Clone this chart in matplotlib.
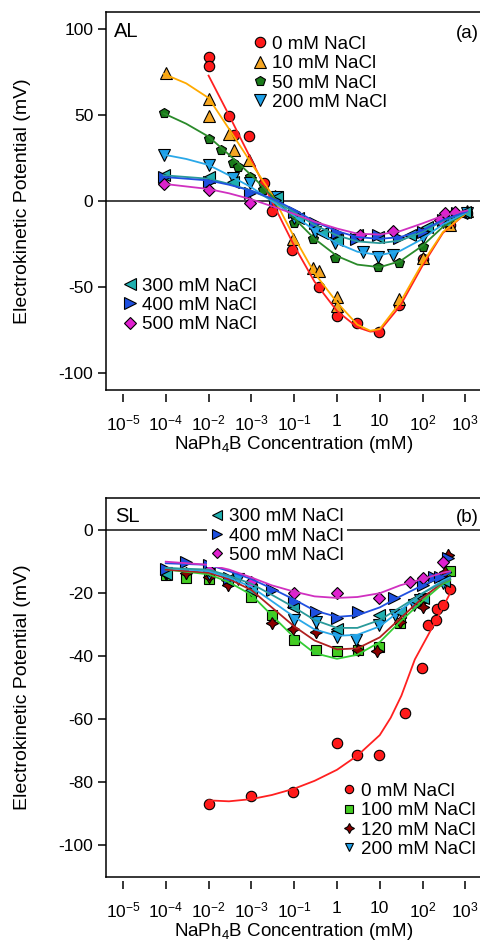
import matplotlib
matplotlib.use('Agg')
import matplotlib.pyplot as plt
from matplotlib.lines import Line2D

plt.rcParams['font.family'] = ['Liberation Sans', 'DejaVu Sans']
plt.rcParams['mathtext.fontset'] = 'custom'
plt.rcParams['mathtext.rm'] = 'Liberation Sans'
plt.rcParams['mathtext.it'] = 'Liberation Sans:italic'
plt.rcParams['axes.unicode_minus'] = False

# ---------------------------------------------------------------
# DATA  (x = NaPh4B concentration at the tick positions, y = mV)

xticks = [1e-5, 1e-4, 1e-3, 1e-2, 1e-1, 1, 10, 1e2, 1e3]
# labels exactly as printed on the original figure
xtick_labels = ['$10^{-5}$', '$10^{-4}$', '$10^{-2}$', '$10^{-3}$', '$10^{-1}$',
                '1', '10', '$10^{2}$', '$10^{3}$']

# panel (a) AL
al_0_x = [1e-3, 1e-3, 3e-3, 4e-3, 9e-3, 0.02, 0.03, 0.09, 0.38, 1, 3, 9.5, 28, 100, 440, 1100]
al_0_y = [84, 78.5, 49.5, 38.5, 38, 10.5, -6, -28.5, -50, -67, -71, -76.5, -60.5, -34, -14, -7]
al_10_x = [1e-4, 1e-3, 1e-3, 3e-3, 4e-3, 9e-3, 0.035, 0.095, 0.28, 0.38, 1, 1, 28, 100, 440, 1100]
al_10_y = [74.5, 59.5, 49.5, 39, 29.5, 24, 3, -22, -39, -41, -56, -61, -57, -33, -14, -6]
al_50_x = [9e-5, 1e-3, 1.9e-3, 3.7e-3, 4.9e-3, 9.3e-3, 0.019, 0.035, 0.1, 0.28, 0.9, 9, 28, 100, 1100]
al_50_y = [51, 36, 29.5, 22, 20, 14, 6.5, -1, -13, -22, -33, -38.5, -36, -27, -7]
al_200_x = [9e-5, 1e-3, 3.7e-3, 9.3e-3, 0.04, 0.1, 0.3, 0.9, 4, 9, 20, 100, 300, 1100]
al_200_y = [27, 21, 13.5, 10.5, 2.3, -10, -18, -24.5, -29.5, -32.5, -31.5, -21, -12, -7]
al_300_x = [9e-5, 1e-3, 3.7e-3, 0.04, 0.12, 0.45, 1, 3, 9, 50, 130, 330, 1000]
al_300_y = [15, 14, 11, 2.3, -10, -18.6, -22.7, -19.8, -21, -19.8, -15, -12, -6.4]
al_400_x = [9e-5, 1e-3, 9.3e-3, 0.035, 0.1, 0.3, 1, 2.8, 9, 28, 100, 300, 630]
al_400_y = [14, 11, 4.8, 0.5, -6.4, -12.8, -18.6, -22, -20, -21.5, -18, -11, -7]
al_500_x = [9e-5, 1e-3, 9.3e-3, 3.5, 20, 250, 330, 570]
al_500_y = [10, 6.5, -1.2, -19.8, -17.5, -11, -7, -6.4]

al_fit_x = [9e-5, 3e-4, 1e-3, 3e-3, 0.01, 0.03, 0.1, 0.3, 1, 3, 10, 30, 100, 300, 1100]
al_0_fit_x = [1e-3, 3e-3, 0.01, 0.03, 0.1, 0.3, 1, 3, 6, 10, 30, 100, 300, 1100]
al_0_fit_y = [73, 50, 24, 0, -26, -47, -64, -73.5, -76, -75.5, -61, -37.5, -18.5, -6.5]
al_10_fit_x = [9e-5, 3e-4, 1e-3, 3e-3, 0.01, 0.03, 0.1, 0.3, 1, 3, 6, 10, 30, 100, 300, 1100]
al_10_fit_y = [74, 68.5, 60, 42, 22, 4, -21, -42, -59, -72, -75.5, -74.5, -59, -36, -18, -6.5]
al_50_fit_y = [51, 45, 37.5, 27, 15, 3, -10, -22, -32, -37, -38.5, -35, -26, -15, -6.5]
al_200_fit_y = [27, 24.5, 21, 15, 8, 0, -8.5, -17, -24.5, -29.5, -31.5, -29, -22, -13.5, -6.5]
al_300_fit_y = [15, 14, 13, 10, 6, 1, -6.5, -14, -20, -23.5, -24.5, -23, -18, -11.5, -6]
al_400_fit_y = [14, 13, 12, 9.5, 6, 1.5, -5, -12, -17.5, -21, -22, -21, -17, -11, -6]
al_500_fit_y = [10, 8.5, 7, 4.5, 1, -3, -7.5, -12, -16, -19, -19.5, -17.5, -13, -8.5, -5.5]

# panel (b) SL
sl_0_x = [1e-3, 0.01, 0.093, 1, 3, 9.5, 39, 98, 135, 205, 215, 300, 440]
sl_0_y = [-86.7, -84.4, -83.2, -67.6, -71.4, -71.4, -58, -43.8, -30.2, -28.6, -25, -23.8, -18.8]
sl_100_x = [1e-4, 3e-4, 1e-3, 0.01, 0.03, 0.1, 0.32, 1, 3.1, 9.5, 30, 100, 440]
sl_100_y = [-14.3, -15.1, -15.6, -21.2, -26.8, -34.7, -37.9, -38.3, -37.9, -37, -29.4, -21.6, -12.9]
sl_120_x = [1e-4, 3e-4, 1e-3, 2.8e-3, 0.03, 0.093, 0.32, 3.1, 8.5, 30, 100, 330, 400]
sl_120_y = [-14, -13.6, -15, -17.5, -29.4, -31.2, -32.3, -38.1, -38.3, -29.2, -24.3, -13.3, -8]
sl_200_x = [1e-4, 1e-3, 5e-3, 0.01, 0.1, 0.32, 1, 2.8, 9.5, 23, 63, 89, 300]
sl_200_y = [-13.5, -14, -15.5, -19, -28.6, -29.2, -33.9, -34.9, -30.2, -27, -23.8, -22.2, -16.9]
sl_300_x = [1e-4, 2.7e-3, 0.01, 0.093, 1, 9.5, 30, 63, 100, 320]
sl_300_y = [-14, -15.9, -19, -24.3, -31.2, -27, -26, -22, -21.5, -16]
sl_400_x = [1e-4, 3e-4, 1e-3, 3e-3, 0.03, 0.1, 0.32, 1, 3.1, 21, 100, 190, 250, 400]
sl_400_y = [-12.2, -10.1, -11.1, -15.3, -19, -22.8, -26, -28, -26, -21.6, -17.5, -14.9, -14.9, -8.9]
sl_500_x = [1e-3, 0.01, 0.1, 1, 9.5, 50, 100, 300]
sl_500_y = [-12.7, -16.5, -20, -20, -21.6, -16.5, -15.3, -10]

sl_fit_x = [1e-4, 1e-3, 3e-3, 0.01, 0.03, 0.1, 0.3, 1, 3, 10, 30, 100, 300, 440]
sl_0_fit_x = [1e-3, 3e-3, 0.01, 0.03, 0.1, 0.3, 1, 3, 10, 18, 32, 66, 100, 200, 440]
sl_0_fit_y = [-85.7, -86, -85.3, -84, -82, -79.5, -76, -71.5, -65, -59.5, -52.5, -41, -36.5, -29, -20]
sl_100_fit_y = [-12.5, -14, -16.5, -20.5, -27, -34, -39, -40.8, -39.5, -35.5, -29, -22.5, -17, -16]
sl_120_fit_y = [-12.5, -13.5, -15.5, -19, -24.5, -30.5, -35, -37.8, -37.5, -34, -28, -21.5, -16.5, -15.5]
sl_200_fit_y = [-12, -13, -15, -18, -22.5, -27.5, -31.5, -33.5, -33.2, -30.5, -25.5, -20, -16, -15]
sl_300_fit_y = [-12, -12.5, -14.5, -17, -20.5, -24.5, -28.5, -31, -31, -28.5, -24.5, -20, -16.5, -15.5]
sl_400_fit_y = [-10.5, -11, -13, -15.5, -18.5, -22, -25.5, -27.5, -27, -24.5, -21, -17.5, -14.5, -13.5]
sl_500_fit_y = [-10, -11, -12.5, -15, -17.5, -19.5, -21, -21.5, -21.2, -20, -17.5, -15.5, -13.5, -13]

# ---------------------------------------------------------------
# styles per NaCl concentration: marker, face colour, fit colour, size

style = {
    '0':   ('o', '#ff1a1a', '#ff2020', 7.5),
    '10':  ('^', '#f5a623', '#ffaa00', 8),
    '50':  ('p', '#1a7a1a', '#2a8a2a', 7.5),
    '100': ('s', '#44cc22', '#33cc33', 7),
    '120': ((4, 1, 0), '#8b0000', '#b02020', 9),
    '200': ('v', '#1ea0e8', '#2aa8e8', 8),
    '300': ('<', '#1fb0b0', '#2a9a9a', 8),
    '400': ('>', '#1e50e0', '#2050e0', 8),
    '500': ('D', '#e020d0', '#d030c0', 6.5),
}

FS = 12.5      # tick labels
LFS = 13.5     # legend / axis labels
fig = plt.figure(figsize=(4.8, 9.43), dpi=100)


def make_axes(rect, ylim, yticks):
    ax = fig.add_axes(rect)
    ax.set_xscale('log')
    ax.set_xlim(10 ** -5.397, 10 ** 3.388)
    ax.set_ylim(*ylim)
    ax.set_xticks(xticks)
    ax.set_xticklabels(xtick_labels)
    ax.minorticks_off()
    ax.set_yticks(yticks)
    ax.tick_params(direction='out', length=6, width=1.1, labelsize=FS, pad=3)
    ax.tick_params(axis='x', length=6, pad=8)
    ax.spines['bottom'].set_position(('outward', 3))
    ax.spines['bottom'].set_visible(False)
    ax.spines['right'].set_visible(False)
    for s in ['left', 'top']:
        ax.spines[s].set_linewidth(1.1)
    ax.plot([0, 1], [0, 0], transform=ax.transAxes, color='black', lw=1.1, clip_on=False)
    ax.axhline(0, color='#222222', lw=1.2, zorder=1)
    ax.set_xlabel('NaPh$_4$B Concentration (mM)', fontsize=LFS, labelpad=0)
    ax.set_ylabel('Electrokinetic Potential (mV)', fontsize=14)
    ax.yaxis.set_label_coords(-0.2, 0.5)
    return ax


def draw(ax, key, x, y, fx, fy):
    m, face, line, ms = style[key]
    ax.plot(x, y, linestyle='none', marker=m, ms=ms, mfc=face, mec='black', mew=0.8, zorder=3)
    ax.plot(fx, fy, color=line, lw=1.3, zorder=4)


def handle(key, scale=1.0):
    m, face, line, ms = style[key]
    return Line2D([], [], linestyle='none', marker=m, ms=ms * scale, mfc=face, mec='black', mew=0.8)


def legend(ax, keys, anchor, scale=1.0):
    leg = ax.legend([handle(k, scale) for k in keys], [k + ' mM NaCl' for k in keys],
                    loc='upper left', bbox_to_anchor=anchor, fontsize=LFS,
                    handlelength=0.75, handletextpad=0.3, labelspacing=0.12,
                    borderpad=0.15, borderaxespad=0, frameon=True, fancybox=False,
                    facecolor='white', edgecolor='none', framealpha=1)
    leg.set_zorder(6)
    return leg


# panel (a)
ax1 = make_axes([0.2208, 0.5864, 0.7833, 0.4008], (-110, 110), [-100, -50, 0, 50, 100])
draw(ax1, '0', al_0_x, al_0_y, al_0_fit_x, al_0_fit_y)
draw(ax1, '10', al_10_x, al_10_y, al_10_fit_x, al_10_fit_y)
draw(ax1, '50', al_50_x, al_50_y, al_fit_x, al_50_fit_y)
draw(ax1, '200', al_200_x, al_200_y, al_fit_x, al_200_fit_y)
draw(ax1, '300', al_300_x, al_300_y, al_fit_x, al_300_fit_y)
draw(ax1, '400', al_400_x, al_400_y, al_fit_x, al_400_fit_y)
draw(ax1, '500', al_500_x, al_500_y, al_fit_x, al_500_fit_y)
leg1 = legend(ax1, ['0', '10', '50', '200'], (0.383, 0.945))
ax1.add_artist(leg1)
legend(ax1, ['300', '400', '500'], (0.037, 0.305))
ax1.text(0.02, 0.975, 'AL', transform=ax1.transAxes, fontsize=14.5, va='top')
ax1.text(0.93, 0.965, '(a)', transform=ax1.transAxes, fontsize=LFS, va='top')

# panel (b)
ax2 = make_axes([0.2208, 0.0700, 0.7833, 0.4019], (-110, 10.2), [-100, -80, -60, -40, -20, 0])
draw(ax2, '0', sl_0_x, sl_0_y, sl_0_fit_x, sl_0_fit_y)
draw(ax2, '100', sl_100_x, sl_100_y, sl_fit_x, sl_100_fit_y)
draw(ax2, '120', sl_120_x, sl_120_y, sl_fit_x, sl_120_fit_y)
draw(ax2, '200', sl_200_x, sl_200_y, sl_fit_x, sl_200_fit_y)
draw(ax2, '300', sl_300_x, sl_300_y, sl_fit_x, sl_300_fit_y)
draw(ax2, '400', sl_400_x, sl_400_y, sl_fit_x, sl_400_fit_y)
draw(ax2, '500', sl_500_x, sl_500_y, sl_fit_x, sl_500_fit_y)
leg2 = legend(ax2, ['300', '400', '500'], (0.268, 0.981), scale=0.85)
ax2.add_artist(leg2)
legend(ax2, ['0', '100', '120', '200'], (0.619, 0.256), scale=0.8)
ax2.text(0.025, 0.975, 'SL', transform=ax2.transAxes, fontsize=14.5, va='top')
ax2.text(0.93, 0.97, '(b)', transform=ax2.transAxes, fontsize=LFS, va='top')

fig.savefig('out.png', dpi=100)
